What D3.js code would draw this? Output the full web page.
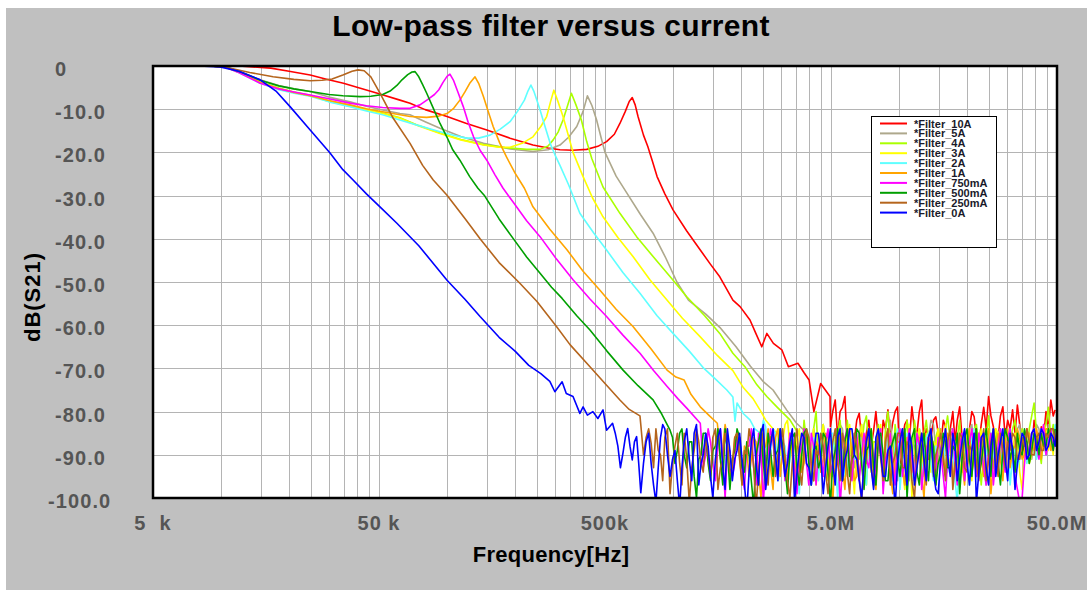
<!DOCTYPE html>
<html><head><meta charset="utf-8">
<script src="https://cdn.jsdelivr.net/npm/d3@7"></script>
<style>
body{margin:0;background:#fff}
svg{display:block}
text{font-family:Arial,"Liberation Sans",Helvetica,sans-serif}
</style>
</head><body>
<svg id="chart" width="1087" height="590"></svg>
<script>
// ---------------- DATA ----------------
const chartTitle = "Low-pass filter versus current";
const xAxisTitle = "Frequency[Hz]";
const yAxisTitle = "dB(S21)";
const seriesNames = ["*Filter_10A","*Filter_5A","*Filter_4A","*Filter_3A","*Filter_2A","*Filter_1A","*Filter_750mA","*Filter_500mA","*Filter_250mA","*Filter_0A"];
const seriesColors = ["#ff0000","#aea88c","#aaff00","#ffff00","#5fffff","#ffa500","#ff00ff","#00a000","#b5651d","#0000ff"];
const yTickValues = [0,-10,-20,-30,-40,-50,-60,-70,-80,-90,-100];
const yTickLabels = ["0","-10.0","-20.0","-30.0","-40.0","-50.0","-60.0","-70.0","-80.0","-90.0","-100.0"];
const xTickValues = [5e3,5e4,5e5,5e6,5e7];
const xTickLabels = ["5  k","50 k","500k","5.0M","50.0M"];

// sweep points used in the noise-floor region (MHz)
const noiseFreqMHz = [0.54,0.555,0.57,0.585,0.60,0.615,0.63,0.645,0.66,0.675,0.69,0.705,0.72,0.74,0.76,0.78,0.80,0.82,0.84,0.86,
 0.88,0.90,0.92,0.945,0.97,0.995,1.02,1.045,1.07,1.095,1.12,1.15,1.18,1.21,1.24,1.27,1.30,1.33,1.36,1.395,
 1.43,1.465,1.50,1.54,1.58,1.62,1.66,1.70,1.74,1.785,1.83,1.875,1.92,1.97,2.02,2.07,2.12,2.17,2.22,2.275,
 2.33,2.39,2.45,2.51,2.57,2.635,2.70,2.77,2.84,2.91,2.98,3.055,3.13,3.21,3.29,3.37,3.45,3.535,3.62,3.71,
 3.80,3.895,3.99,4.09,4.19,4.295,4.40,4.51,4.62,4.735,4.85,4.97,5.09,5.22,5.35,5.485,5.62,5.76,5.90,6.045,
 6.19,6.345,6.50,6.665,6.83,7.0,7.17,7.35,7.53,7.715,7.90,8.10,8.30,8.505,8.71,8.93,9.15,9.38,9.61,9.85,
 10.1,10.35,10.6,10.85,11.1,11.4,11.7,12.0,12.3,12.6,12.9,13.2,13.5,13.85,14.2,14.55,14.9,15.3,15.7,16.05,
 16.4,16.85,17.3,17.7,18.1,18.55,19.0,19.5,20.0,20.5,21.0,21.5,22.0,22.55,23.1,23.7,24.3,24.9,25.5,26.15,
 26.8,27.45,28.1,28.8,29.5,30.25,31.0,31.8,32.6,33.4,34.2,35.05,35.9,36.8,37.7,38.65,39.6,40.6,41.6,42.6,
 43.6,44.7,45.8,46.95,48.1,49.05,50.0];

// smooth part of each trace: [frequency kHz, dB]
const trace10A = [[5,0],[12,0],[16.6,-0.5],[20,-1.2],[24.8,-2.1],[29,-3],[34.8,-4.0],[41,-5.1],[49.2,-6.3],[61.9,-7.9],[68.6,-8.6],[80,-10.1],[100,-11.7],[122,-13.3],[150,-14.8],[190,-16.7],[240,-18.3],[280,-19],[316,-19.4],[360,-19.5],[415,-19.3],[465,-18.6],[508,-17.5],[550,-15.8],[582,-13.3],[615,-10.5],[640,-8.2],[660,-7.3],[680,-9],[700,-11.7],[740,-16],[774,-18.7],[810,-22],[850,-25.6],[920,-29.6],[1000,-33.3],[1150,-38.2],[1320,-42.6],[1460,-45.8],[1610,-48.8],[1840,-54.2],[1980,-55.7],[2190,-58.8],[2330,-62],[2470,-65],[2600,-61.9],[2780,-64.2],[3030,-65.7],[3240,-69.6],[3570,-68.8],[3800,-71],[4000,-72.7],[4200,-80],[4500,-73.5],[4950,-76.5]];
const trace5A = [[5,0],[9,0],[10.5,-0.2],[12.1,-1.3],[14.9,-3.2],[18,-4.5],[21,-5.3],[24.8,-5.9],[30,-7.2],[37.2,-8.3],[44,-9.3],[51.9,-10.2],[61.9,-11],[68.6,-11.3],[80,-12.9],[93.1,-14.4],[115,-16.3],[145,-17.9],[190,-19.2],[240,-19.8],[280,-19.4],[316,-18.3],[345,-16.5],[375,-14],[400,-10.5],[418,-6.9],[438,-9.2],[459,-12.5],[480,-16.5],[500,-20],[560,-25.5],[626,-29.5],[720,-34.5],[816,-38.7],[930,-44.5],[1040,-50],[1170,-54.2],[1400,-57.5],[1610,-60.5],[1900,-65],[2200,-69.5],[2500,-73],[2770,-75],[3180,-79.6],[3520,-82.7],[3920,-85]];
const trace4A = [[5,0],[9,0],[10.5,-0.3],[12.1,-1.5],[14.9,-3.7],[18,-5.1],[21,-6.0],[24.8,-6.8],[30,-8.1],[37.2,-9.2],[44,-10.1],[51.9,-10.9],[61.9,-12],[75,-13.8],[93.1,-15.5],[115,-17],[145,-18.2],[180,-18.9],[225,-19.3],[258,-19.3],[280,-18.5],[295,-17.1],[310,-15.3],[326,-12.5],[340,-9.5],[355,-6.3],[372,-9],[393,-12.5],[415,-17.5],[437,-21.4],[490,-28],[582,-34.1],[690,-39.5],[816,-44.1],[980,-49],[1150,-53.4],[1380,-57.8],[1610,-61.9],[1840,-66.5],[2080,-69.6],[2350,-73.8],[2600,-76.5],[2880,-78.9],[3290,-81.9],[3540,-84.6]];
const trace3A = [[5,0],[9,0],[10.5,-0.3],[12.1,-1.5],[14.9,-3.8],[18,-5.2],[21,-6.1],[24.8,-6.9],[30,-8.2],[37.2,-9.3],[44,-10.2],[51.9,-11],[61.9,-12.1],[75,-13.9],[93.1,-15.6],[115,-17.1],[145,-18.3],[170,-18.8],[190,-18.8],[215,-17.9],[240,-16.4],[260,-14],[276,-11.7],[287,-8.3],[297,-5.6],[310,-8.3],[326,-11.7],[343,-15.8],[361,-20],[400,-25.6],[440,-30.5],[490,-34.9],[570,-39.7],[665,-44.1],[790,-49.5],[942,-54.2],[1100,-58.4],[1320,-62.7],[1570,-67],[1840,-70.5],[2050,-74.5],[2260,-77],[2450,-80],[2570,-82],[2880,-85]];
const trace2A = [[5,0],[9,0],[10.5,-0.3],[12.1,-1.6],[14.9,-4.0],[18,-5.5],[21,-6.3],[24.8,-7.0],[30,-8.3],[37.2,-9.4],[44,-10.4],[51.9,-11.3],[61.9,-12.5],[75,-13.8],[93.1,-15.2],[108,-16.1],[122,-16.7],[138,-16.7],[155,-16],[172,-14.6],[190,-12.9],[205,-10.5],[220,-7.9],[228,-5.8],[235,-4.4],[242,-5.8],[250,-8],[258,-10.2],[272,-14.2],[286,-17.9],[300,-20.5],[316,-23],[345,-27.5],[387,-34.1],[445,-38.6],[508,-42.6],[600,-47.8],[714,-52.6],[850,-57.8],[1000,-61.9],[1180,-66],[1370,-70],[1550,-72.6],[1730,-75],[1840,-76.6],[1880,-82.2],[1920,-78],[2050,-80.5],[2190,-81.9],[2300,-84],[2430,-85]];
const trace1A = [[5,0],[9,0],[10.5,-0.3],[12.1,-1.5],[14.9,-3.8],[18,-5.2],[21,-6.1],[24.8,-6.9],[30,-8.0],[37.2,-9.0],[44,-9.9],[51.9,-10.6],[61.9,-11.3],[68.6,-11.7],[81.3,-11.9],[92,-11.6],[100,-11],[107,-9.8],[114,-7.9],[120,-6],[126,-4],[133,-2.5],[138,-4],[145,-7.1],[152,-10.5],[160,-14],[171,-17.8],[183,-21],[200,-24.8],[220,-28.3],[240,-32.6],[285,-37.8],[340,-42.6],[400,-47.5],[475,-51.9],[560,-56.3],[665,-60.3],[800,-65.5],[941,-70.4],[1030,-72],[1120,-72.7],[1200,-76],[1320,-78.9],[1450,-81],[1570,-82.7]];
const trace750mA = [[5,0],[9,0],[10.5,-0.3],[12.1,-1.6],[14.9,-4.0],[18,-5.3],[21,-6.0],[24.8,-6.7],[30,-7.6],[37.2,-8.6],[44,-9.2],[51.9,-9.6],[61.9,-9.8],[68.6,-9.8],[75.9,-9.0],[82,-7.8],[88,-6.6],[92,-5.5],[96,-3.8],[100,-2.4],[103,-1.9],[107,-3.4],[112,-6.2],[118,-9.4],[124,-13],[131,-16.4],[140,-19.5],[150,-21.8],[163,-25.2],[177,-28.3],[196,-31.5],[225,-35.8],[258,-39.5],[305,-44.7],[361,-49.5],[430,-54],[508,-58],[600,-62.3],[714,-66.5],[820,-70.5],[942,-74.2],[1050,-77],[1150,-79.2],[1320,-82.7]];
const trace500mA = [[5,0],[9,0],[10.5,-0.3],[12.1,-1.3],[14.9,-3.3],[18,-4.6],[21,-5.3],[24.8,-5.9],[30,-6.6],[34.6,-6.9],[41.2,-7.1],[46,-7.0],[51.9,-6.6],[56,-5.8],[60,-4.5],[63.2,-3.2],[67,-2.0],[70,-1.4],[72.2,-1.3],[75,-2.5],[78,-4.3],[81.3,-6.3],[87,-9.8],[93.1,-13.3],[100,-16.5],[106,-19.4],[114,-21.8],[126,-25.6],[137,-28.3],[146,-29.9],[170,-35.4],[196,-39.9],[225,-44.2],[258,-48],[290,-51.2],[323,-53.8],[375,-57.8],[429,-61.1],[510,-66],[601,-70.4],[700,-74],[816,-77.3],[890,-80.5],[970,-84.3]];
const trace250mA = [[5,0],[9,0],[10.5,-0.3],[13.4,-1.5],[17,-2.5],[21,-3.1],[24.8,-3.4],[28,-3.3],[31,-3.0],[34.6,-2.1],[38,-1.2],[40.4,-0.9],[43,-1.1],[46,-2.5],[50.5,-6.3],[57.8,-12.1],[68.6,-17.9],[78,-23],[86.9,-26.4],[100,-29.9],[120,-35.3],[140,-40],[170,-45.5],[210,-50.3],[250,-54.5],[305,-60.3],[350,-64.5],[429,-69.6],[500,-73.5],[582,-77.3],[640,-79.5],[714,-81]];
const trace0A = [[5,0],[8,0],[9.9,-0.2],[12,-1.2],[14.9,-3.2],[17.5,-5.8],[20.2,-9.4],[24.8,-14.8],[30.3,-20.1],[34.6,-24],[38.4,-26.4],[44,-29.6],[50.5,-32.6],[60,-36.4],[75,-41.6],[100,-49.6],[120,-54],[140,-58],[170,-62.8],[200,-66],[230,-69.3],[260,-71.2],[285,-73],[300,-75.4],[323,-73.1],[337,-75.8],[361,-76.5],[387,-80.4],[400,-78.9],[418,-80.8],[442,-80],[465,-81.6],[490,-79.6],[508,-84.3]];

// noise-floor readings on the noiseFreqMHz sweep (dB), continuing after each smooth part
const floor10A = [-83.5,-80,-77.3,-86,-80,-79,-76.5,-88,-84,-91,-86.6,-82,-80.4,-86,-90,-85,-82,-88,-84.5,-80,
 -86.6,-90,-82,-84,-79.6,-86,-82.5,-80,-78.9,-92,-86.6,-83,-82,-87,-78.9,-84,-85,-80,-77.3,-88,
 -84,-91,-86,-82,-81.2,-85,-88,-82,-83.5,-89,-84,-80,-87,-82,-78.9,-86,-85,-90,-84,-80,
 -81.2,-86,-88,-83,-79,-84,-76.5,-81,-83.5,-90,-86,-81,-78.9,-86,-82,-84,-79.6,-85,-78.5,-83,
 -86,-90,-84,-87,-89,-82,-85,-90,-83.5,-86,-80,-84,-77.3,-81,-79.6];
const floor5A = [-86,-91,-84,-87,-89,-94,-83,-88,-92,-85,-86,-95,-88,-83,-84,-90,-95,-86,-87,-93,
 -90,-85,-83,-97,-88,-84,-85,-90,-93,-87,-86,-92,-89,-85,-82,-88,-91,-96,-87,-84,
 -85,-91,-96,-87,-88,-93,-84,-87,-90,-94,-86,-82,-83,-89,-92,-85,-87,-93,-89,-84,
 -84,-90,-94,-86,-86,-91,-88,-84,-83,-89,-90,-86,-85,-92,-97,-88,-87,-93,-89,-85,
 -84,-90,-91,-85,-86,-92,-88,-84,-83,-89,-90,-85,-85,-91,-87,-83,-84,-89,-86,-90,
 -83,-88,-85,-87,-84];
const floor4A = [-85,-90,-82,-87,-88,-93,-84,-80,-91,-86,-83,-89,-87,-92,-95,-86,-85,-82,-89,-94,
 -82,-87,-92,-85,-86,-91,-88,-83,-81,-88,-94,-87,-87,-83,-90,-95,-84,-80,-89,-93,
 -83,-88,-96,-90,-86,-82,-88,-93,-82,-86,-91,-95,-85,-82,-87,-90,-93,-86,-84,-89,
 -89,-84,-81,-87,-90,-93,-86,-82,-94,-88,-85,-91,-88,-84,-83,-89,-97,-90,-86,-81,
 -89,-93,-84,-88,-91,-86,-85,-89,-87,-84,-82,-88,-90,-84,-86,-90,-84,-81,-78,-85,
 -88,-92,-85,-83,-79,-86,-83,-88,-84];
const floor3A = [-84,-90,-87,-83,-82,-88,-90,-95,-86,-84,-93,-89,-85,-91,-89,-84,-97,-90,-87,-83,
 -91,-96,-84,-88,-95,-86,-88,-93,-90,-85,-83,-92,-99,-88,-87,-83,-92,-97,-86,-84,
 -89,-94,-85,-83,-96,-90,-88,-85,-91,-96,-84,-88,-93,-98,-87,-83,-100,-91,-86,-84,
 -90,-95,-85,-89,-94,-87,-88,-84,-89,-92,-83,-90,-92,-86,-87,-93,-97,-89,-86,-84,
 -91,-96,-84,-89,-88,-84,-95,-89,-86,-91,-90,-84,-85,-91,-93,-86,-87,-92,-89,-85,
 -86,-94,-98,-89,-87,-92,-90,-84,-85,-89,-88,-83,-84,-89,-86,-90,-85];
const floor2A = [-86,-82,-83.5,-92,-89,-84,-85,-96,-94,-87,-88,-95,-91,-86,-87,-93,-99,-88,-89,-84,
 -92,-97,-86,-90,-96,-85,-88,-94,-90,-85,-85,-92,-100,-88,-89,-95,-93,-86,-87,-91,
 -91,-86,-86,-94,-97,-87,-88,-93,-92,-85,-85,-94,-95,-86,-89,-96,-87,-84,-98,-91,
 -90,-85,-86,-96,-93,-87,-88,-94,-91,-86,-85,-92,-96,-88,-89,-84,-87,-93,-94,-86,
 -88,-96,-101,-90,-89,-85,-92,-97,-86,-84,-95,-89,-88,-93,-90,-86,-85,-91,-93,-87,
 -89,-94,-87,-84,-97,-91,-88,-93,-91,-85,-86,-92,-89,-86,-85,-91,-88,-84,-86,-90,
 -84,-88,-87,-83,-85];
const floor1A = [-84,-91,-88,-83,-86,-95,-92,-86,-85,-90,-97,-88,-89,-95,-91,-86,-87,-94,-100,-89,
 -88,-84,-93,-98,-86,-84,-95,-89,-90,-96,-85,-90,-99,-88,-89,-94,-92,-85,-87,-93,
 -96,-87,-88,-94,-91,-85,-86,-93,-101,-90,-89,-85,-93,-98,-87,-84,-90,-96,-95,-86,
 -85,-91,-92,-86,-88,-96,-98,-87,-89,-95,-86,-84,-94,-99,-90,-87,-87,-93,-97,-86,
 -88,-94,-91,-86,-86,-95,-100,-88,-89,-85,-93,-97,-87,-84,-90,-95,-85,-87,-96,-91,
 -89,-85,-92,-97,-87,-84,-94,-91,-88,-85,-90,-95,-86,-84,-99,-92,-89,-85,-91,-96,
 -87,-84,-93,-89,-88,-84,-86,-91,-90,-85,-85,-88,-89,-84,-87,-91,-86,-84,-84,-89,
 -87,-86,-85];
const floor750mA = [-85,-93,-90,-84,-87,-92,-96,-88,-84,-91,-100,-89,-89,-95,-92,-86,-86,-94,-98,-88,
 -88,-84,-93,-97,-85,-89,-101,-92,-90,-84,-87,-93,-95,-86,-89,-96,-91,-85,-86,-93,
 -99,-90,-88,-84,-92,-97,-85,-88,-97,-89,-90,-95,-87,-84,-94,-92,-89,-85,-102,-93,
 -86,-84,-91,-96,-88,-85,-96,-90,-85,-91,-93,-87,-90,-95,-87,-84,-99,-91,-89,-85,
 -92,-97,-86,-84,-95,-91,-88,-84,-91,-96,-85,-88,-98,-92,-90,-86,-87,-93,-94,-86,
 -89,-95,-100,-91,-86,-84,-92,-97,-88,-85,-96,-90,-87,-84,-90,-95,-85,-88,-93,-97,
 -89,-85,-97,-91,-88,-84,-91,-94,-86,-84,-89,-95,-98,-101,-100,-92,-87,-90,-85,-84,
 -88,-91,-86,-83,-90,-87,-84,-89,-86];
const floor500mA = [-86,-92,-89,-85,-84,-90,-93,-87,-87,-95,-100,-91,-90,-85,-85,-92,-96,-89,-88,-84,
 -91,-97,-84,-89,-98,-91,-89,-84,-86,-93,-94,-87,-90,-96,-102,-90,-87,-84,-92,-97,
 -85,-89,-95,-90,-89,-84,-88,-93,-99,-89,-86,-85,-93,-97,-90,-85,-84,-92,-97,-89,
 -88,-93,-91,-85,-86,-94,-101,-92,-89,-84,-92,-96,-87,-84,-95,-91,-90,-84,-85,-92,
 -98,-89,-88,-84,-93,-97,-86,-85,-90,-96,-96,-89,-87,-85,-91,-95,-89,-84,-100,-91,
 -86,-84,-94,-97,-88,-85,-92,-96,-85,-88,-97,-92,-90,-85,-87,-93,-93,-88,-89,-85,
 -99,-91,-86,-84,-91,-95,-88,-84,-95,-92,-87,-84,-90,-95,-84,-88,-92,-97,-89,-84,
 -86,-91,-88,-94,-85,-89,-90,-84,-87,-92,-89,-85,-86,-90,-85,-88,-88,-84,-86,-89,-84];
const floor250mA = [-83,-90,-86,-84,-87.3,-93,-84,-89,-90,-96,-86,-84,-99,-92,-88,-85,-92,-97,-85,-91,
 -101,-93,-89,-84,-87,-92,-94,-86,-90,-95,-86,-84,-98,-93,-91,-85,-88,-94,-93,-86,
 -85,-91,-97,-89,-90,-84,-87,-93,-102,-94,-89,-84,-92,-97,-86,-85,-95,-90,-88,-84,
 -91,-96,-100,-92,-87,-84,-93,-97,-89,-84,-86,-92,-96,-89,-90,-85,-88,-94,-99,-91,
 -87,-84,-92,-96,-85,-88,-94,-99,-90,-85,-88,-95,-101,-92,-86,-84,-93,-97,-89,-85,
 -91,-96,-87,-84,-97,-92,-90,-85,-85,-93,-93,-87,-88,-96,-100,-91,-89,-85,-92,-97,
 -86,-84,-95,-90,-88,-85,-91,-96,-87,-84,-98,-92,-90,-85,-86,-93,-94,-88,-89,-85,
 -92,-96,-88,-84,-96,-91,-87,-84,-90,-95,-85,-89,-93,-87,-89,-85,-86,-91,-91,-86,
 -88,-84,-87,-90,-90,-86,-85,-89,-89,-85,-86,-84,-84,-87,-86];
const floor0A = [-82.7,-85,-88,-93,-89.7,-86,-83.9,-88,-91.2,-87,-85.8,-92,-98.8,-92,-87,-85,-92,-97,-101,-93,
 -86,-83,-84,-90,-95,-91,-89,-96,-102,-93,-87,-84,-91,-96,-85,-83,-97,-92,-90,-85,
 -88,-95,-100,-91,-86,-84,-93,-98,-84,-89,-96,-91,-89,-85,-91,-97,-103,-94,-87,-84,
 -92,-97,-85,-83,-98,-93,-88,-84,-90,-96,-84,-90,-95,-92,-87,-84,-101,-94,-89,-85,
 -86,-92,-93,-97,-90,-85,-85,-91,-99,-93,-88,-84,-92,-97,-86,-84,-96,-91,-89,-84,
 -84,-90,-91,-96,-100,-92,-87,-84,-93,-98,-86,-84,-90,-95,-95,-89,-88,-94,-102,-92,
 -87,-84,-92,-97,-85,-88,-97,-93,-89,-85,-91,-96,-86,-84,-94,-98,-99,-91,-88,-84,
 -90,-95,-85,-88,-96,-91,-87,-84,-92,-97,-89,-85,-101,-94,-86,-85,-93,-97,-88,-84,
 -95,-90,-87,-84,-91,-96,-85,-89,-98,-92,-89,-85,-86,-91,-90,-85,-84,-89,-87,-84,
 -85,-89,-88,-85,-86,-88,-84];

const seriesSmooth = [trace10A,trace5A,trace4A,trace3A,trace2A,trace1A,trace750mA,trace500mA,trace250mA,trace0A];
const seriesFloor = [floor10A,floor5A,floor4A,floor3A,floor2A,floor1A,floor750mA,floor500mA,floor250mA,floor0A];

// ---------------- DRAW ----------------
const W = 1087, H = 590;
const svg = d3.select("#chart");
const plot = {left:153, right:1057, top:66, bottom:498};

const x = d3.scaleLog().domain([5e3,5e7]).range([plot.left, plot.right]);
const y = d3.scaleLinear().domain([0,-100]).range([plot.top, plot.bottom]);

// background
svg.append("rect").attr("x",0).attr("y",0).attr("width",W).attr("height",H).attr("fill","#ffffff");
svg.append("rect").attr("x",6).attr("y",8).attr("width",W-6).attr("height",H-8).attr("fill","#c0c0c0");
svg.append("rect").attr("x",plot.left).attr("y",plot.top)
  .attr("width",plot.right-plot.left).attr("height",plot.bottom-plot.top).attr("fill","#ffffff");

// grid
const decades = [5e3,5e4,5e5,5e6];
const vGrid = decades.flatMap(d => d3.range(1,10).map(k => d*k)).filter(f => f > 5e3 && f < 5e7);
const grid = svg.append("g").attr("shape-rendering","crispEdges");
grid.selectAll("line.v").data(vGrid).join("line").attr("class","v")
  .attr("x1",d=>Math.round(x(d))+0.5).attr("x2",d=>Math.round(x(d))+0.5)
  .attr("y1",plot.top).attr("y2",plot.bottom)
  .attr("stroke","#b4b4b4").attr("stroke-width",1);
grid.selectAll("line.h").data(yTickValues.slice(1,-1)).join("line").attr("class","h")
  .attr("y1",d=>Math.round(y(d))+0.5).attr("y2",d=>Math.round(y(d))+0.5)
  .attr("x1",plot.left).attr("x2",plot.right)
  .attr("stroke","#b4b4b4").attr("stroke-width",1);

// clip
svg.append("defs").append("clipPath").attr("id","plotclip")
  .append("rect").attr("x",plot.left).attr("y",plot.top)
  .attr("width",plot.right-plot.left).attr("height",plot.bottom-plot.top);

function buildSeries(smooth, floor){
  const pts = smooth.map(([k,d]) => [k*1e3, d]);
  const last = pts[pts.length-1][0];
  const g = noiseFreqMHz.map(m => m*1e6).filter(f => f > last);
  floor.forEach((d,i) => { if (i < g.length) pts.push([g[i], d]); });
  return pts;
}
const line = d3.line().x(d => x(d[0])).y(d => y(d[1]));
const curves = svg.append("g").attr("clip-path","url(#plotclip)");
seriesNames.forEach((name,i) => {
  curves.append("path")
    .datum(buildSeries(seriesSmooth[i], seriesFloor[i]))
    .attr("d", line)
    .attr("fill","none")
    .attr("stroke", seriesColors[i])
    .attr("stroke-width",1.6)
    .attr("stroke-linejoin","round");
});

// frame
svg.append("rect").attr("x",plot.left).attr("y",plot.top)
  .attr("width",plot.right-plot.left).attr("height",plot.bottom-plot.top)
  .attr("fill","none").attr("stroke","#000").attr("stroke-width",2.5);

// y tick labels
svg.append("g").selectAll("text").data(yTickValues).join("text")
  .attr("x",(d,i)=> yTickLabels[i].length > 5 ? 48 : 55)
  .attr("y",d => y(d) + 10)
  .attr("font-size",20).attr("font-weight","bold").attr("fill","#555555")
  .attr("letter-spacing","1.1px")
  .text((d,i)=>yTickLabels[i]);

// x tick labels
svg.append("g").selectAll("text").data(xTickValues).join("text")
  .attr("x",d => x(d)).attr("y",530)
  .attr("text-anchor","middle")
  .attr("font-size",20).attr("font-weight","bold").attr("fill","#555555")
  .attr("letter-spacing","1px")
  .style("white-space","pre")
  .text((d,i)=>xTickLabels[i]);

// titles
svg.append("text").attr("x",551).attr("y",36).attr("text-anchor","middle")
  .attr("font-size",30).attr("font-weight","bold").attr("fill","#000")
  .attr("letter-spacing","0.3px").text(chartTitle);
svg.append("text").attr("x",551).attr("y",562).attr("text-anchor","middle")
  .attr("font-size",22).attr("font-weight","bold").attr("fill","#000")
  .attr("letter-spacing","0.3px").text(xAxisTitle);
svg.append("text").attr("transform","translate(40,297) rotate(-90)").attr("text-anchor","middle")
  .attr("font-size",22).attr("font-weight","bold").attr("fill","#000")
  .attr("letter-spacing","1px").text(yAxisTitle);

// legend
const lg = svg.append("g");
lg.append("rect").attr("x",871.5).attr("y",116.5).attr("width",125).attr("height",131)
  .attr("fill","#fff").attr("stroke","#000").attr("stroke-width",1);
seriesNames.forEach((name,i) => {
  const ly = 123.5 + i*9.9;
  lg.append("line").attr("x1",880).attr("x2",907).attr("y1",ly).attr("y2",ly)
    .attr("stroke",seriesColors[i]).attr("stroke-width",2);
  lg.append("text").attr("x",914).attr("y",ly+4)
    .attr("font-size",11).attr("font-weight","bold").attr("fill","#1a1a2a").text(name);
});
</script>
</body></html>
